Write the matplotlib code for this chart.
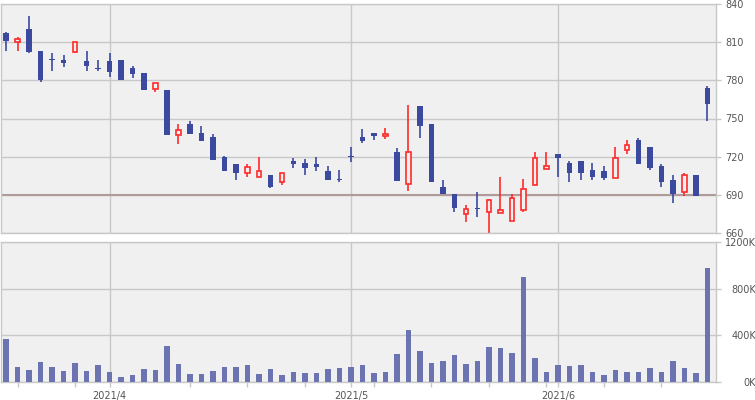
import matplotlib
matplotlib.use('Agg')
import matplotlib.pyplot as plt
import numpy as np

# daily OHLC (2021/3/19 - 2021/6/18), one entry per trading day
opens = [817, 810, 820, 803, 796, 796, 802.5, 795, 789, 795, 795.5, 789.5, 785.5, 773, 772,
         737, 745.5, 739, 735.5, 719.5, 714, 707.5, 704.5, 705.5, 700.5, 716.5, 715.5, 714, 709, 702.5,
         720, 735.5, 738.5, 736, 723.5, 699, 760, 745.5, 696, 690.5, 675, 679, 676.5, 676, 669.5,
         678.5, 697.5, 710.5, 722.5, 715.5, 716.5, 710, 708.5, 703.5, 725.5, 733.5, 728, 713, 702,
         692, 706, 774]
highs = [817.5, 814, 830, 803, 801, 800, 810, 803, 796, 801, 795.5, 791.5, 786, 777.5, 772,
         745.5, 748, 744.5, 737.5, 720.5, 714, 714, 719.5, 705.5, 707.5, 719, 718.5, 719.5, 712.5, 710,
         728, 741.5, 738.5, 742.5, 726.5, 760.5, 760, 745.5, 701.5, 690.5, 682.5, 692, 687, 704.5, 690.5,
         702.5, 723.5, 723.5, 722.5, 716.5, 716.5, 715.5, 712.5, 727.5, 733.5, 734.5, 728, 714, 705.5,
         707.5, 706, 775.5]
lows = [803, 803, 801, 779, 787, 790.5, 801, 787.5, 787.5, 782.5, 780, 782, 772, 771, 737,
        730, 738, 732.5, 717.5, 708.5, 701.5, 704.5, 704, 695.5, 697.5, 711.5, 705.5, 708.5, 701.5, 700,
        716, 731, 733, 734, 701, 693, 734.5, 700, 690.5, 677, 669, 672.5, 660.5, 676, 669.5,
        676.5, 697.5, 710.5, 704.5, 700.5, 702, 701.5, 702, 703.5, 722, 714.5, 709.5, 696.5, 683.5,
        689, 689.5, 748]
closes = [811, 812, 802, 780, 795.5, 793.5, 810, 791, 788.5, 786.5, 780, 784.5, 772.5, 777.5, 737,
          741, 738, 732.5, 717.5, 708.5, 707, 712, 709, 696, 707.5, 714, 711, 712, 701.5, 702,
          719.7, 732, 736, 738, 701, 723.5, 744, 700, 690.5, 679.5, 679, 678.7, 686, 678.5, 687.5,
          695, 719, 713, 719, 707, 707.5, 704.5, 703.5, 719, 729.5, 714.5, 711, 700.5, 690.5,
          706, 689.5, 761.5]
volumes = [368, 128, 103, 171, 128, 94, 162, 94, 145, 86, 43, 60, 111, 103, 308,
           154, 68, 68, 94, 128, 128, 145, 68, 111, 60, 86, 77, 77, 111, 120,
           128, 145, 77, 86, 240, 445, 265, 162, 180, 231, 154, 180, 299, 291, 248,
           898, 205, 86, 145, 137, 145, 86, 60, 103, 86, 86, 120, 86, 180, 120,
           77, 975]

month_pos = [9, 30, 48]
month_labels = ['2021/4', '2021/5', '2021/6']
week_pos = [1, 6, 16, 21, 26, 32, 37, 42, 47, 52, 57]
price_ticks = [660, 690, 720, 750, 780, 810, 840]
vol_ticks = [0, 400, 800, 1200]
vol_labels = ['0K', '400K', '800K', '1200K']
ref_price = 690

up_col = '#ff2a2a'
down_col = '#3b4a9f'
vol_col = '#6b73b1'
bg = '#f0f0f0'
grid_col = '#c8c8c8'
text_col = '#555555'

plt.rcParams['font.family'] = ['DejaVu Sans']

fig = plt.figure(figsize=(7.55, 4.0), dpi=100)
ax1 = fig.add_axes([1/755, 1-233.3/400, 715/755, 229.6/400])
ax2 = fig.add_axes([1/755, 1-382/400, 715/755, 139.7/400])

x = np.arange(len(opens))
o = np.array(opens); h = np.array(highs); l = np.array(lows); c = np.array(closes)
up = c > o
w = 0.42

for ax in (ax1, ax2):
    ax.set_facecolor(bg)
    ax.set_xlim(-0.435, 61.74)
    for s in ax.spines.values():
        s.set_color(grid_col)
        s.set_linewidth(1)
    ax.set_axisbelow(True)
    ax.yaxis.tick_right()
    ax.set_xticks(month_pos)
    ax.grid(True, color=grid_col, linewidth=1)

# candles
ax1.vlines(x[up], l[up], h[up], color=up_col, linewidth=1.2, zorder=2)
ax1.vlines(x[~up], l[~up], h[~up], color=down_col, linewidth=1.2, zorder=2)
body = np.maximum(np.abs(c - o), 0.9)
bottom = np.minimum(o, c)
ax1.bar(x[up], body[up], bottom=bottom[up], width=w, facecolor=bg,
        edgecolor=up_col, linewidth=1.2, zorder=3)
ax1.bar(x[~up], body[~up], bottom=bottom[~up], width=w + 0.05, color=down_col,
        linewidth=0, zorder=3)
ax1.axhline(ref_price, color='#b09a9a', linewidth=1.5, zorder=1.5)

ax1.set_ylim(660, 840)
ax1.set_yticks(price_ticks)
ax1.tick_params(axis='y', length=3.75, width=1, color=grid_col, labelcolor=text_col,
                labelsize=7, pad=3)
ax1.tick_params(axis='x', length=0, labelbottom=False)

# volume
ax2.bar(x, volumes, width=w + 0.05, color=vol_col, zorder=3)
ax2.set_ylim(0, 1200)
ax2.set_yticks(vol_ticks)
ax2.set_yticklabels(vol_labels)
ax2.tick_params(axis='y', length=3.75, width=1, color=grid_col, labelcolor=text_col,
                labelsize=7, pad=25)
for t in ax2.get_yticklabels():
    t.set_horizontalalignment('right')
ax2.set_xticks(week_pos, minor=True)
ax2.set_xticklabels(month_labels)
ax2.tick_params(axis='x', which='both', length=3.75, width=1, color=grid_col,
                labelcolor=text_col, labelsize=7, pad=3)

fig.savefig('out.png', dpi=100)
